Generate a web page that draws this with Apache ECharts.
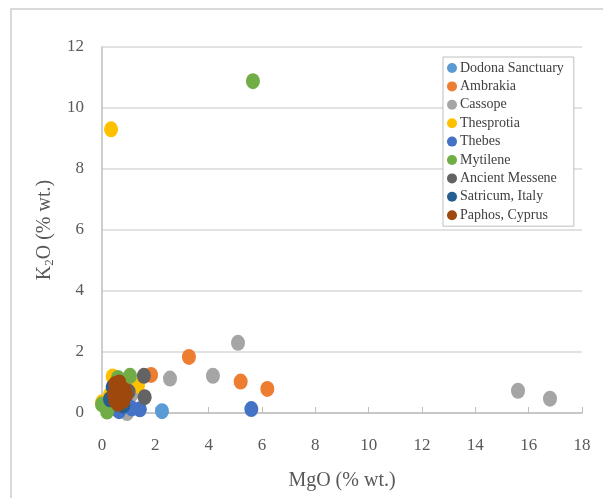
<!DOCTYPE html>
<html>
<head>
<meta charset="utf-8">
<script src="https://cdn.jsdelivr.net/npm/echarts@6/dist/echarts.min.js"></script>
<style>html,body{margin:0;padding:0;background:#fff}#c{width:603px;height:498px}</style>
</head>
<body>
<div id="c"></div>
<script>
const seriesNames = ["Dodona Sanctuary","Ambrakia","Cassope","Thesprotia","Thebes","Mytilene","Ancient Messene","Satricum, Italy","Paphos, Cyprus"];
const seriesColors = ["#5B9BD5","#ED7D31","#A5A5A5","#FFC000","#4472C4","#70AD47","#636363","#255E91","#9E480E"];
const xTicks = [0,2,4,6,8,10,12,14,16,18];
const yTicks = [0,2,4,6,8,10,12];

const dodona = [[2.25,0.06],[0.2,0.3],[0.5,0.15]];
const ambrakia = [[1.84,1.25],[3.26,1.84],[5.2,1.03],[6.2,0.79],[0.9,0.9]];
const cassope = [[5.1,2.3],[2.55,1.13],[4.16,1.22],[15.6,0.73],[16.8,0.47],[0.94,0.0],[1.1,0.6]];
const thesprotia = [[0.34,9.3],[0.4,1.2],[1.35,0.9],[0.0,0.35],[0.3,0.6]];
const thebes = [[5.6,0.13],[1.42,0.12],[0.64,0.06],[1.12,0.15],[0.3,0.3],[0.9,0.35]];
const mytilene = [[5.66,10.88],[1.05,1.22],[0.19,0.05],[0.0,0.28],[0.6,1.15]];
const messene = [[1.57,1.22],[1.6,0.52],[1.0,0.7]];
const satricum = [[0.4,0.85],[0.3,0.45],[0.8,0.25],[0.55,0.6]];
const paphos = [[0.5,0.95],[0.6,0.7],[0.7,0.5],[0.8,0.4],[0.5,0.4],[0.9,0.6],[0.6,0.3],[0.45,0.6],[0.7,0.85],[0.85,0.75],[0.65,1.0]];
const seriesData = [dodona,ambrakia,cassope,thesprotia,thebes,mytilene,messene,satricum,paphos];

const font = "'Liberation Serif','Times New Roman',serif";
const chart = echarts.init(document.getElementById('c'), null, {renderer:'canvas'});
chart.setOption({
  animation:false,
  backgroundColor:'#fff',
  graphic:[{type:'rect',shape:{x:11,y:9,width:620,height:520},style:{fill:'none',stroke:'#d9d9d9',lineWidth:2},z:-1}],
  grid:{left:102,right:21,top:47,bottom:85},
  legend:{
    orient:'vertical',left:443,top:57,
    backgroundColor:'#fff',borderColor:'#bfbfbf',borderWidth:1,
    padding:[3,10,3,4],
    icon:'circle',itemWidth:10,itemHeight:10,itemGap:2.4,
    textStyle:{fontFamily:font,fontSize:14,color:'#404040',lineHeight:16,padding:[0,0,0,-2]},
    data:seriesNames
  },
  xAxis:{
    type:'value',min:0,max:18,interval:2,
    name:'MgO (% wt.)',nameLocation:'middle',nameGap:58,
    nameTextStyle:{fontFamily:font,fontSize:20,color:'#595959'},
    axisLine:{show:true,lineStyle:{color:'#bfbfbf',width:1.5}},
    axisTick:{show:true,inside:true,length:6,lineStyle:{color:'#bfbfbf'}},
    axisLabel:{fontFamily:font,fontSize:17,color:'#595959',margin:24},
    splitLine:{show:false}
  },
  yAxis:{
    type:'value',min:0,max:12,interval:2,
    name:'{a|K}{s|2}{a|O (% wt.)}',nameLocation:'middle',nameGap:44,
    nameTextStyle:{rich:{a:{fontFamily:font,fontSize:20,color:'#595959'},s:{fontFamily:font,fontSize:13,color:'#595959',verticalAlign:'bottom',padding:[10,0,0,0]}}},
    axisLine:{show:true,lineStyle:{color:'#bfbfbf',width:1.5}},
    axisTick:{show:false},
    axisLabel:{fontFamily:font,fontSize:17,color:'#595959',margin:18},
    splitLine:{show:true,lineStyle:{color:'#d9d9d9',width:1.5}}
  },
  series: seriesNames.map((n,i)=>({
    name:n,type:'scatter',data:seriesData[i],
    symbol:'circle',symbolSize:[14,16],
    itemStyle:{color:seriesColors[i],opacity:1},
    z:2+i
  }))
});
</script>
</body>
</html>
